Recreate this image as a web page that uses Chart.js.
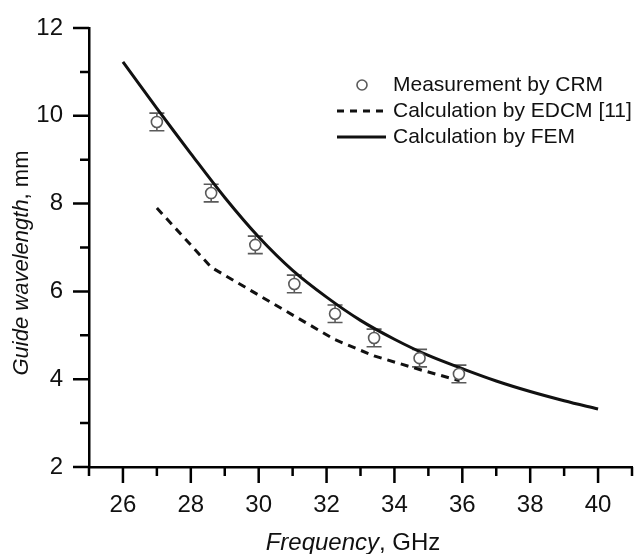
<!DOCTYPE html>
<html>
<head>
<meta charset="utf-8">
<script src="https://cdn.jsdelivr.net/npm/chart.js@4.4.0/dist/chart.umd.min.js"></script>
<style>
  html, body { margin: 0; padding: 0; background: #fff; }
  #wrap { width: 640px; height: 554px; }
</style>
</head>
<body>
<div id="wrap"><canvas id="chart"></canvas></div>
<script>
// Guide wavelength vs frequency - measurement (CRM) against two calculations

const freqCRM = [27.0, 28.6, 29.9, 31.05, 32.25, 33.4, 34.74, 35.9];
const lambdaCRM = [9.86, 8.24, 7.06, 6.17, 5.49, 4.94, 4.48, 4.12];
const errCRM = [0.2, 0.2, 0.2, 0.2, 0.2, 0.2, 0.2, 0.2];

const freqEDCM = [27.0, 28.6, 29.9, 31.05, 32.25, 33.4, 34.74, 35.9];
const lambdaEDCM = [7.9, 6.55, 5.96, 5.44, 4.9, 4.53, 4.22, 3.97];

const freqFEM = [26, 27, 28, 29, 30, 31, 32, 33, 34, 35, 36, 37, 38, 39, 40];
const lambdaFEM = [11.23, 10.17, 9.14, 8.14, 7.24, 6.48, 5.87, 5.34, 4.91, 4.54, 4.24, 3.96, 3.72, 3.51, 3.32];

const legendLabels = ['Measurement by CRM', 'Calculation by EDCM [11]', 'Calculation by FEM'];

const FONT = "'Liberation Sans', Arial, sans-serif";
const GREY = '#5a5a5a';

const toXY = (xs, ys) => xs.map((x, i) => ({ x: x, y: ys[i] }));

// error bars go under the hollow circles
const errorBars = {
    id: 'errorBars',
    beforeDatasetsDraw(chart) {
        const { ctx, scales: { x, y } } = chart;
        ctx.save();
        ctx.strokeStyle = GREY;
        ctx.lineWidth = 1.6;
        freqCRM.forEach((f, i) => {
            const px = x.getPixelForValue(f);
            const top = y.getPixelForValue(lambdaCRM[i] + errCRM[i]);
            const bot = y.getPixelForValue(lambdaCRM[i] - errCRM[i]);
            ctx.beginPath();
            ctx.moveTo(px, top); ctx.lineTo(px, bot);
            ctx.moveTo(px - 7.5, top); ctx.lineTo(px + 7.5, top);
            ctx.moveTo(px - 7.5, bot); ctx.lineTo(px + 7.5, bot);
            ctx.stroke();
        });
        ctx.restore();
    }
};

// outward ticks, long on labelled values, short in between
const tickMarks = {
    id: 'tickMarks',
    afterDraw(chart) {
        const { ctx, scales: { x, y } } = chart;
        ctx.save();
        ctx.strokeStyle = '#000';
        ctx.lineWidth = 2.5;
        ctx.beginPath();
        x.ticks.forEach(t => {
            const px = x.getPixelForValue(t.value);
            const len = t.value % 2 === 0 ? 16 : 9;
            ctx.moveTo(px, x.top); ctx.lineTo(px, x.top + len);
        });
        y.ticks.forEach(t => {
            const py = y.getPixelForValue(t.value);
            const len = t.value % 2 === 0 ? 16 : 9;
            ctx.moveTo(y.right, py); ctx.lineTo(y.right - len, py);
        });
        ctx.stroke();
        ctx.restore();
    }
};

// axis titles (italic quantity + upright unit) and the legend box
const annotations = {
    id: 'annotations',
    afterDraw(chart) {
        const ctx = chart.ctx;
        ctx.save();
        ctx.fillStyle = '#111';

        // x title
        ctx.textBaseline = 'alphabetic';
        ctx.textAlign = 'left';
        const xa = 'Frequency', xb = ', GHz';
        ctx.font = 'italic 24px ' + FONT;
        const wa = ctx.measureText(xa).width;
        ctx.font = '24px ' + FONT;
        const wb = ctx.measureText(xb).width;
        let sx = 353 - (wa + wb) / 2;
        ctx.font = 'italic 24px ' + FONT;
        ctx.fillText(xa, sx, 550);
        ctx.font = '24px ' + FONT;
        ctx.fillText(xb, sx + wa, 550);

        // y title
        ctx.save();
        ctx.translate(28, 263);
        ctx.rotate(-Math.PI / 2);
        const ya = 'Guide wavelength', yb = ', mm';
        ctx.font = 'italic 22px ' + FONT;
        const wya = ctx.measureText(ya).width;
        ctx.font = '22px ' + FONT;
        const wyb = ctx.measureText(yb).width;
        let sy = -(wya + wyb) / 2;
        ctx.font = 'italic 22px ' + FONT;
        ctx.fillText(ya, sy, 0);
        ctx.font = '22px ' + FONT;
        ctx.fillText(yb, sy + wya, 0);
        ctx.restore();

        // legend
        const rows = [85, 111, 137];
        ctx.font = '21px ' + FONT;
        ctx.textBaseline = 'middle';
        legendLabels.forEach((lab, i) => ctx.fillText(lab, 393, rows[i]));

        ctx.strokeStyle = GREY;
        ctx.lineWidth = 1.6;
        ctx.fillStyle = '#fff';
        ctx.beginPath();
        ctx.arc(362, rows[0], 5, 0, Math.PI * 2);
        ctx.fill(); ctx.stroke();

        ctx.strokeStyle = '#111';
        ctx.lineWidth = 3;
        ctx.setLineDash([7, 6]);
        ctx.beginPath();
        ctx.moveTo(337, rows[1]); ctx.lineTo(383, rows[1]);
        ctx.stroke();
        ctx.setLineDash([]);
        ctx.beginPath();
        ctx.moveTo(337, rows[2]); ctx.lineTo(386, rows[2]);
        ctx.stroke();

        ctx.restore();
    }
};

const ctx = document.getElementById('chart').getContext('2d');
const chart = new Chart(ctx, {
    type: 'scatter',
    data: {
        datasets: [
            {
                label: legendLabels[0],
                data: toXY(freqCRM, lambdaCRM),
                showLine: false,
                pointRadius: 5.5,
                pointBorderWidth: 1.6,
                pointBorderColor: GREY,
                pointBackgroundColor: '#fff',
                order: 0
            },
            {
                label: legendLabels[1],
                data: toXY(freqEDCM, lambdaEDCM),
                showLine: true,
                borderColor: '#111',
                borderWidth: 3,
                borderDash: [8, 6],
                pointRadius: 0,
                tension: 0,
                order: 1
            },
            {
                label: legendLabels[2],
                data: toXY(freqFEM, lambdaFEM),
                showLine: true,
                borderColor: '#111',
                borderWidth: 3,
                pointRadius: 0,
                tension: 0.35,
                order: 2
            }
        ]
    },
    options: {
        responsive: true,
        maintainAspectRatio: false,
        animation: false,
        layout: { padding: { top: 28, right: 3, left: 0, bottom: 0 } },
        scales: {
            x: {
                type: 'linear',
                min: 25,
                max: 41,
                afterFit: s => { s.height = 87; },
                grid: { drawOnChartArea: false, color: 'transparent', tickLength: 16 },
                border: { color: '#000', width: 2.5 },
                ticks: {
                    stepSize: 1,
                    autoSkip: false,
                    maxRotation: 0,
                    padding: 8,
                    color: '#111',
                    font: { family: FONT, size: 24 },
                    callback: v => (v % 2 === 0 && v > 25 && v < 41) ? v : ''
                }
            },
            y: {
                type: 'linear',
                min: 2,
                max: 12,
                afterFit: s => { s.width = 89; },
                grid: { drawOnChartArea: false, color: 'transparent', tickLength: 16 },
                border: { color: '#000', width: 2.5 },
                ticks: {
                    stepSize: 1,
                    autoSkip: false,
                    padding: 10,
                    color: '#111',
                    font: { family: FONT, size: 24 },
                    callback: v => v % 2 === 0 ? v : ''
                }
            }
        },
        plugins: {
            legend: { display: false },
            tooltip: { enabled: false }
        }
    },
    plugins: [errorBars, tickMarks, annotations]
});
</script>
</body>
</html>
